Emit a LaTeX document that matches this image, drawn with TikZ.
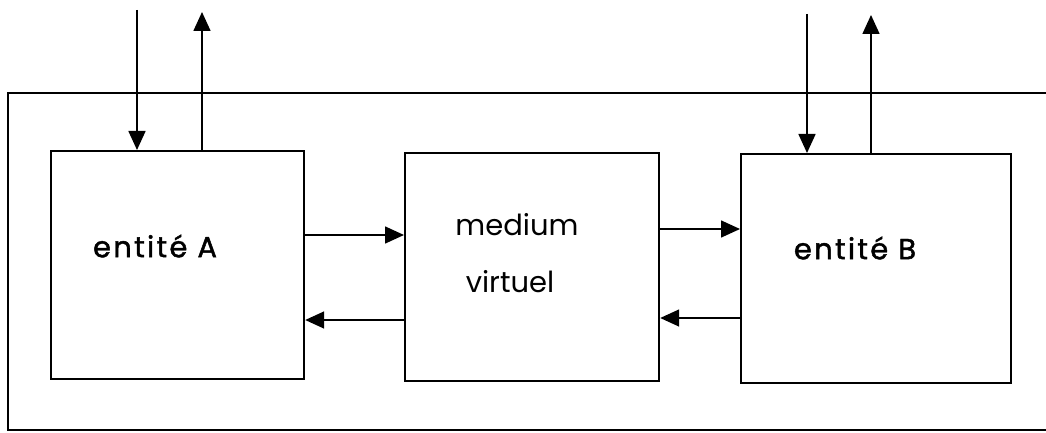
\documentclass[tikz,border=0pt]{standalone}
\usepackage{fontspec}
\setmainfont{Poppins}
\usetikzlibrary{arrows.meta}
\begin{document}
\begin{tikzpicture}[x=1pt,y=-1pt,
  blockbox/.style={draw,line width=2.2pt,inner sep=0pt,anchor=north west},
  flow/.style={line width=1.6pt,-{Triangle[length=19pt,width=17pt]}},
  lbl/.style={font=\fontsize{29}{32}\selectfont},
  elbl/.style={font=\fontsize{29}{32}\selectfont\addfontfeature{LetterSpace=8,FakeBold=1.5}}]
\useasboundingbox (0,0) rectangle (1046,433);
\draw[line width=2.2pt] (1046,93) -- (8,93) -- (8,430) -- (1046,430);
\node[blockbox,minimum width=253pt,minimum height=228pt] (A) at (50,150) {};
\node[blockbox,minimum width=254pt,minimum height=228pt] (M) at (404,152) {};
\node[blockbox,minimum width=270pt,minimum height=229pt] (B) at (740,153) {};
\node[elbl] (ta) at (155,246) {entité A};
\node[lbl] (tm1) at (517,225) {medium};
\node[lbl] (tm2) at (510,282) {virtuel};
\node[elbl] (tb) at (855,248) {entité B};
\coordinate (ainS) at (137,10);
\coordinate (aoutE) at (202,12);
\coordinate (binS) at (807,14);
\coordinate (boutE) at (871,15);
\draw[flow] (ainS) -- (ainS |- A.north);
\draw[flow] (aoutE |- A.north) -- (aoutE);
\draw[flow] (binS) -- (binS |- B.north);
\draw[flow] (boutE |- B.north) -- (boutE);
\draw[flow] (A.east |- 0,235) -- (M.west |- 0,235);
\draw[flow] (M.west |- 0,320) -- (A.east |- 0,320);
\draw[flow] (M.east |- 0,229) -- (B.west |- 0,229);
\draw[flow] (B.west |- 0,318) -- (M.east |- 0,318);
\end{tikzpicture}
\end{document}
